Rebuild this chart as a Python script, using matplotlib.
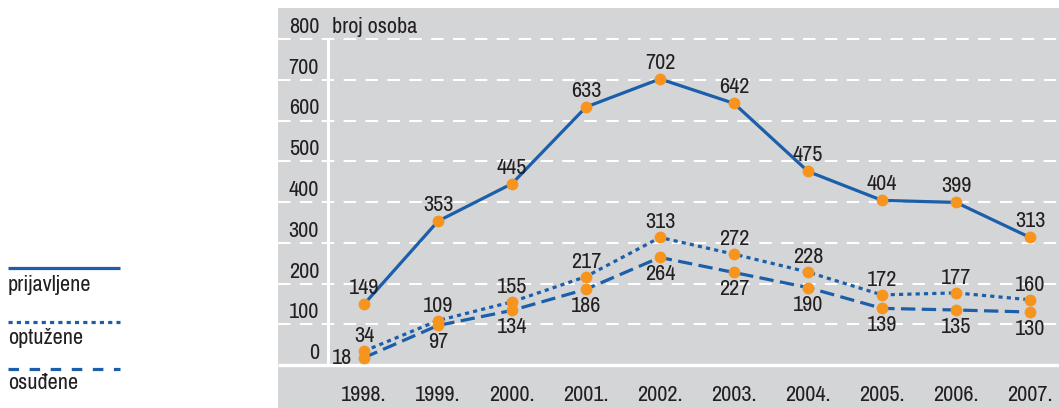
import matplotlib
matplotlib.use("Agg")
import matplotlib.pyplot as plt
from matplotlib.lines import Line2D
import logging
logging.getLogger('matplotlib.font_manager').setLevel(logging.ERROR)

years = ["1998.", "1999.", "2000.", "2001.", "2002.", "2003.", "2004.", "2005.", "2006.", "2007."]
prijavljene = [149, 353, 445, 633, 702, 642, 475, 404, 399, 313]
optuzene = [34, 109, 155, 217, 313, 272, 228, 172, 177, 160]
osudene = [18, 97, 134, 186, 264, 227, 190, 139, 135, 130]
yticks = [0, 100, 200, 300, 400, 500, 600, 700, 800]
series_names = ["prijavljene", "optužene", "osuđene"]

plt.rcParams['font.family'] = ['Liberation Sans Narrow', 'Archivo Narrow', 'Roboto Condensed',
                               'Liberation Sans', 'DejaVu Sans']

W, H = 1059, 408
fig = plt.figure(figsize=(W / 100, H / 100), dpi=100)
fig.patch.set_facecolor("white")

BLUE = "#1b5ea9"
ORANGE = "#f7941d"
GRAY = "#d4d5d7"
TXT = "#231f20"
FS = 16

x0, x1 = 278, 1059
y_top, y_bot = 8, 408
ax = fig.add_axes([x0 / W, 1 - y_bot / H, (x1 - x0) / W, (y_bot - y_top) / H])
ax.set_facecolor(GRAY)
for s in ax.spines.values():
    s.set_visible(False)
ax.set_xticks([])
ax.set_yticks([])

px0, step = 364, 74
ppu = (365 - 39) / 800.0
ax.set_xlim((x0 - px0) / step, (x1 - px0) / step)
ax.set_ylim(-(y_bot - 365) / ppu, 800 + (39 - y_top) / ppu)

xs = list(range(len(years)))
xmin, xmax = ax.get_xlim()

for v in yticks[1:]:
    ax.plot([xmin, xmax], [v, v], color="white", lw=1.5, dashes=(6, 4.5), zorder=1,
            solid_capstyle="butt", dash_capstyle="butt")
ax.plot([xmin, xmax], [0, 0], color="white", lw=2.4, zorder=2, solid_capstyle="butt")
xax = (328 - px0) / step
ax.plot([xax, xax], [0, 800], color="white", lw=2.2, zorder=2, solid_capstyle="butt")

xlab = (319 - px0) / step
for v in yticks:
    ax.text(xlab, v + 12 / ppu, str(v), ha="right", va="center", fontsize=FS, color=TXT)
ax.text((332 - px0) / step, 800 + 12 / ppu, "broj osoba", ha="left", va="center",
        fontsize=FS, color=TXT)

for i, y in enumerate(years):
    ax.text(i, -(395 - 365) / ppu, y, ha="center", va="center", fontsize=FS, color=TXT)

ax.plot(xs, prijavljene, color=BLUE, lw=2.3, zorder=3, solid_capstyle="butt")
ax.plot(xs, optuzene, color=BLUE, lw=2.3, zorder=3, dashes=(1.3, 1.3))
ax.plot(xs, osudene, color=BLUE, lw=2.3, zorder=3, dashes=(4.5, 2.0))
for data in (prijavljene, optuzene, osudene):
    ax.plot(xs, data, "o", color=ORANGE, ms=8.5, mec="none", zorder=4)

def lab(x, y, txt, dx, dy, ha="center"):
    ax.annotate(txt, (x, y), xytext=(dx, dy), textcoords="offset pixels",
                ha=ha, va="center", fontsize=FS, color=TXT, zorder=5)

for i, v in enumerate(prijavljene):
    lab(i, v, str(v), 0, 16)
for i, v in enumerate(optuzene):
    lab(i, v, str(v), 0, 15)
for i, v in enumerate(osudene):
    if i == 0:
        lab(i, v, str(v), -12, 0, ha="right")
    else:
        lab(i, v, str(v), 0, -17)

def fx(p):
    return p / W

def fy(p):
    return 1 - p / H

leg = [(268, 285, dict(), "prijavljene"),
       (322, 338, dict(dashes=(1.3, 1.3)), "optužene"),
       (369, 383, dict(dashes=(3.3, 3.3)), "osuđene")]
for ly, ty, style, name in leg:
    fig.add_artist(Line2D([fx(8), fx(120)], [fy(ly), fy(ly)], color=BLUE, lw=2.3,
                          solid_capstyle="butt", **style))
    fig.text(fx(8), fy(ty), name, ha="left", va="center", fontsize=FS, color=TXT)

fig.savefig("out.png", dpi=100, facecolor="white")
